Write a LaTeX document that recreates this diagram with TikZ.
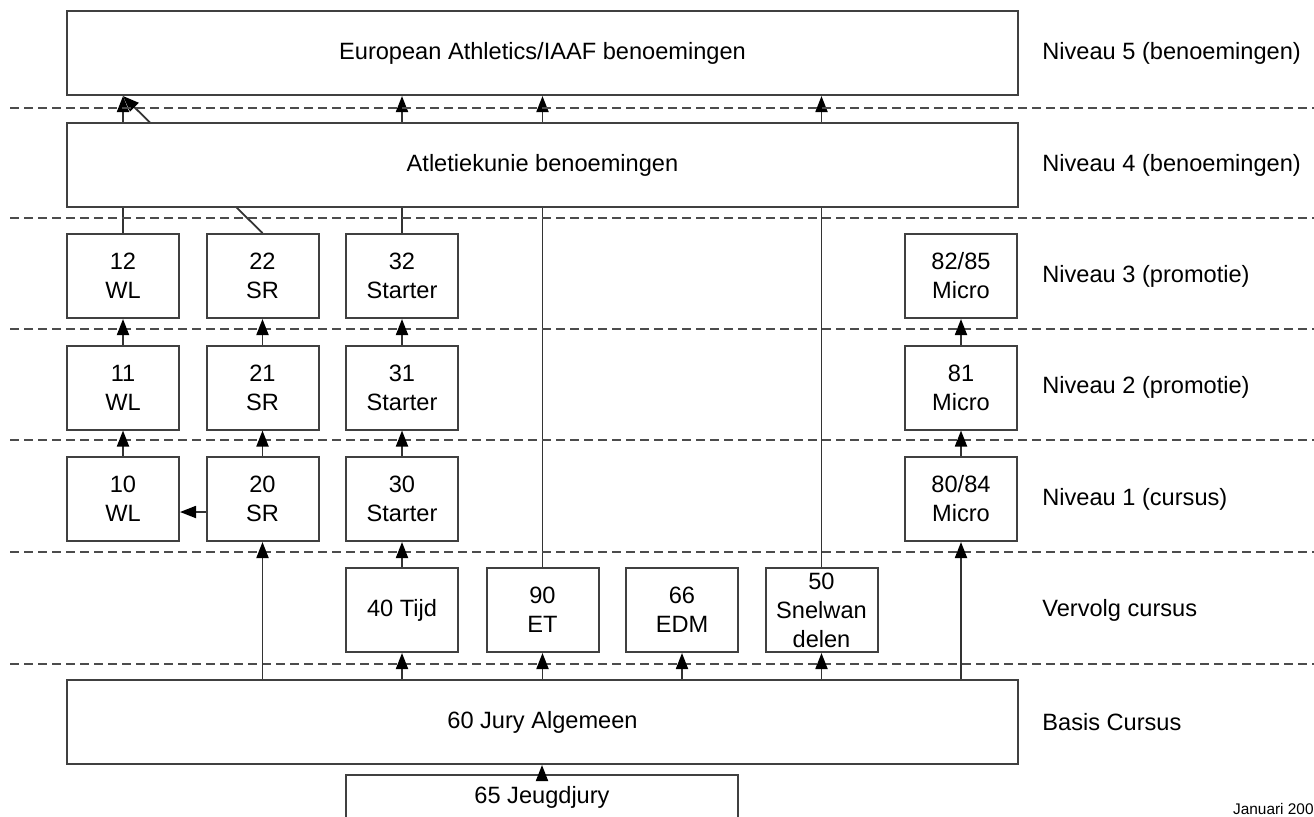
\documentclass[tikz,border=0pt]{standalone}
\usepackage{fontspec}
\setmainfont{Liberation Sans}
\usetikzlibrary{arrows.meta,backgrounds}
\begin{document}
\begin{tikzpicture}[x=0.5pt, y=-0.5pt,
    box/.style={draw=black!75, line width=1pt, fill=white, minimum width=56pt, minimum height=42pt, inner sep=0pt, align=center, font=\fontsize{11.8}{14.5}\selectfont},
    widebox/.style={box, minimum width=475.5pt},
    lvl/.style={anchor=west, inner sep=0pt, font=\fontsize{11.8}{14.5}\selectfont},
    sep/.style={draw=black!70, line width=1pt, dash pattern=on 4.5pt off 2.5pt},
    up/.style={draw=black!80, line width=0.9pt, -{Triangle[length=8pt,width=6pt,color=black]}}]
  \useasboundingbox (0,0) rectangle (1314,816);
  \clip (0,0) rectangle (1314,816);

  \foreach \y in {108,218,329,440,552,664}
    \draw[sep] (10,\y) -- (1314,\y);

  \node[widebox] (ea) at (542.5,53) {European Athletics/IAAF benoemingen};
  \node[widebox] (aku) at (542.5,165) {Atletiekunie benoemingen};

  \node[box] (wl12) at (123,276) {12\\WL};
  \node[box] (sr22) at (262.5,276) {22\\SR};
  \node[box] (st32) at (402,276) {32\\Starter};
  \node[box] (mc82) at (961,276) {82/85\\Micro};

  \node[box] (wl11) at (123,387.5) {11\\WL};
  \node[box] (sr21) at (262.5,387.5) {21\\SR};
  \node[box] (st31) at (402,387.5) {31\\Starter};
  \node[box] (mc81) at (961,387.5) {81\\Micro};

  \node[box] (wl10) at (123,499) {10\\WL};
  \node[box] (sr20) at (262.5,499) {20\\SR};
  \node[box] (st30) at (402,499) {30\\Starter};
  \node[box] (mc80) at (961,499) {80/84\\Micro};

  \node[box] (td40) at (402,610) {40 Tijd};
  \node[box] (et90) at (542.5,610) {90\\ET};
  \node[box] (edm66) at (682,610) {66\\EDM};
  \node[box] (sn50) at (821.5,610) {50\\Snelwan\\delen};

  \node[widebox] (jury) at (542.5,722) {60 Jury Algemeen};
  \node[box, minimum width=196pt, minimum height=22pt] (jeugd) at (542,797) {65 Jeugdjury};

  \node[lvl] (n5) at (1042,53) {Niveau 5 (benoemingen)};
  \node[lvl] (n4) at (1042,165) {Niveau 4 (benoemingen)};
  \node[lvl] (n3) at (1042,276) {Niveau 3 (promotie)};
  \node[lvl] (n2) at (1042,387.5) {Niveau 2 (promotie)};
  \node[lvl] (n1) at (1042,499) {Niveau 1 (cursus)};
  \node[lvl] (vc) at (1042,610) {Vervolg cursus};
  \node[lvl] (bc) at (1042,722) {Basis Cursus};
  \node[anchor=base east, inner sep=0pt, font=\fontsize{7.7}{9}\selectfont] (date) at (1314,814) {Januari 200};

  \begin{pgfonlayer}{background}
    \draw[up] (wl12.north) -- (ea.south -| wl12.north);
    \draw[up] (sr22.north) -- (ea.south -| wl12.north);
    \draw[up] (st32.north) -- (ea.south -| st32.north);
    \draw[up] (et90.north) -- (ea.south -| et90.north);
    \draw[up] (sn50.north) -- (ea.south -| sn50.north);
  \end{pgfonlayer}

  \draw[up] (wl10.north) -- (wl11.south);
  \draw[up] (wl11.north) -- (wl12.south);
  \draw[up] (sr20.north) -- (sr21.south);
  \draw[up] (sr21.north) -- (sr22.south);
  \draw[up] (st30.north) -- (st31.south);
  \draw[up] (st31.north) -- (st32.south);
  \draw[up] (mc80.north) -- (mc81.south);
  \draw[up] (mc81.north) -- (mc82.south);
  \draw[up] (td40.north) -- (st30.south);
  \draw[up] ([yshift=-6.5pt]sr20.west) -- ([yshift=-6.5pt]wl10.east);

  \draw[up] (jury.north -| sr20.south) -- (sr20.south);
  \draw[up] (jury.north -| td40.south) -- (td40.south);
  \draw[up] (jury.north -| et90.south) -- (et90.south);
  \draw[up] (jury.north -| edm66.south) -- (edm66.south);
  \draw[up] (jury.north -| sn50.south) -- (sn50.south);
  \draw[up] (jury.north -| mc80.south) -- (mc80.south);
  \draw[up] (jeugd.north) -- (jeugd.north |- jury.south);
\end{tikzpicture}
\end{document}
